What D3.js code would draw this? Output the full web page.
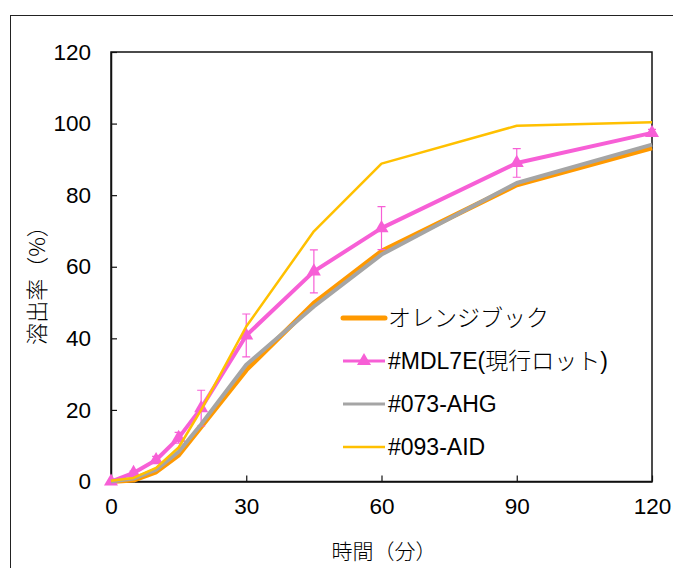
<!DOCTYPE html>
<html>
<head>
<meta charset="utf-8">
<script src="https://cdn.jsdelivr.net/npm/d3@7"></script>
<style>
  body { margin: 0; background: #fff; }
  text { font-family: "Liberation Sans", Arial, "Noto Sans CJK JP", sans-serif; fill: #000; }
  .jp { font-family: "Noto Sans CJK JP", sans-serif; font-weight: 300; }
</style>
</head>
<body>
<div id="chart"></div>
<script>
'use strict';

// time points (min)
const times = [0, 5, 10, 15, 20, 30, 45, 60, 90, 120];

// dissolution (%) per lot
const orangeBook = [0, 0.4, 2.7, 7.4, 15.3, 31.2, 49.8, 64.3, 82.9, 93.2];
const mdl7e = [0, 2.4, 6, 12.2, 20.5, 40.8, 58.7, 70.8, 89, 97.4];
const mdl7eErr = [0, 0.5, 1, 1.5, 5, 6, 6, 6, 4, 1];
const ahg073 = [0, 0.8, 3.3, 8.3, 16, 32.6, 48.9, 63.4, 83.4, 94.1];
const aid093 = [0.2, 1, 3.8, 9.5, 20, 43.3, 69.9, 88.8, 99.4, 100.4];

const seriesNames = ["オレンジブック", "#MDL7E(現行ロット)", "#073-AHG", "#093-AID"];
const xTicks = [0, 30, 60, 90, 120];
const yTicks = [0, 20, 40, 60, 80, 100, 120];

(function() {

  let svgContainer = "";

  window.onload = function() {
    svgContainer = d3.select('#chart')
      .append('svg')
      .attr('width', 673)
      .attr('height', 568);

    // outer chart frame (runs past the window on right and bottom)
    svgContainer.append('rect')
      .attr('x', 10.5)
      .attr('y', 15.5)
      .attr('width', 700)
      .attr('height', 600)
      .attr('fill', 'none')
      .attr('stroke', '#222')
      .attr('stroke-width', 1);

    let map = drawAxes();
    plotData(map);
    makeLegend();
    makeLabels();
  }

  // draw the axes, ticks and plot border
  function drawAxes() {
    let xScale = d3.scaleLinear()
      .domain([0, 120])
      .range([111, 652]);

    let yScale = d3.scaleLinear()
      .domain([0, 120])
      .range([481.5, 52]);

    // plot border
    svgContainer.append('rect')
      .attr('x', 111)
      .attr('y', 52)
      .attr('width', 541)
      .attr('height', 429.5)
      .attr('fill', 'none')
      .attr('stroke', '#111')
      .attr('stroke-width', 1.5);

    let xAxis = d3.axisBottom(xScale)
      .tickValues(xTicks)
      .tickSizeInner(-6)
      .tickSizeOuter(0)
      .tickPadding(28);
    let gx = svgContainer.append('g')
      .attr('transform', 'translate(0, 481.5)')
      .call(xAxis);

    let yAxis = d3.axisLeft(yScale)
      .tickValues(yTicks)
      .tickSizeInner(-6)
      .tickSizeOuter(0)
      .tickPadding(26);
    let gy = svgContainer.append('g')
      .attr('transform', 'translate(111, 0)')
      .call(yAxis);

    [gx, gy].forEach((g) => {
      g.select('.domain').attr('stroke', '#111').attr('stroke-width', 1.5);
      g.selectAll('.tick line').attr('stroke', '#111').attr('stroke-width', 1.2);
      g.selectAll('.tick text')
        .style('font-size', '22.5px')
        .style('font-family', '"Liberation Sans", Arial, sans-serif')
        .attr('fill', '#000');
    });
    gx.selectAll('.tick text').attr('dy', '0.2em');
    gy.selectAll('.tick text').attr('x', -20);

    return { x: xScale, y: yScale };
  }

  // draw lines, error bars and markers
  function plotData(map) {
    let rows = times.map((t, i) => ({
      t: t, o: orangeBook[i], m: mdl7e[i], e: mdl7eErr[i], g: ahg073[i], y: aid093[i]
    }));

    let line = (key) => d3.line()
      .x((d) => map.x(d.t))
      .y((d) => map.y(d[key]));

    svgContainer.append('path')
      .datum(rows)
      .attr('fill', 'none')
      .attr('stroke', '#FF9900')
      .attr('stroke-width', 5)
      .attr('stroke-linejoin', 'round')
      .attr('d', line('o'));

    // error bars for #MDL7E
    let err = svgContainer.append('g')
      .attr('stroke', '#F75FD6')
      .attr('stroke-width', 1.2);
    err.selectAll('.ebar')
      .data(rows.filter((d) => d.e > 0))
      .enter()
      .append('path')
        .attr('fill', 'none')
        .attr('d', (d) => {
          let x = map.x(d.t), y1 = map.y(d.m + d.e), y2 = map.y(d.m - d.e);
          return 'M' + (x - 4) + ',' + y1 + 'H' + (x + 4) + 'M' + x + ',' + y1 + 'V' + y2 +
            'M' + (x - 4) + ',' + y2 + 'H' + (x + 4);
        });

    svgContainer.append('path')
      .datum(rows)
      .attr('fill', 'none')
      .attr('stroke', '#F75FD6')
      .attr('stroke-width', 4)
      .attr('stroke-linejoin', 'round')
      .attr('d', line('m'));

    svgContainer.selectAll('.tri')
      .data(rows)
      .enter()
      .append('path')
        .attr('transform', (d) => 'translate(' + map.x(d.t) + ',' + map.y(d.m) + ')')
        .attr('d', d3.symbol().type(d3.symbolTriangle).size(85))
        .attr('fill', '#F75FD6');

    svgContainer.append('path')
      .datum(rows)
      .attr('fill', 'none')
      .attr('stroke', '#A5A5A5')
      .attr('stroke-width', 4)
      .attr('stroke-linejoin', 'round')
      .attr('d', line('g'));

    svgContainer.append('path')
      .datum(rows)
      .attr('fill', 'none')
      .attr('stroke', '#FFC000')
      .attr('stroke-width', 2.5)
      .attr('stroke-linejoin', 'round')
      .attr('d', line('y'));
  }

  // legend inside the plot
  function makeLegend() {
    let styles = [
      { color: '#FF9900', width: 5, marker: false },
      { color: '#F75FD6', width: 3, marker: true },
      { color: '#A5A5A5', width: 3, marker: false },
      { color: '#FFC000', width: 2.5, marker: false }
    ];
    let item = svgContainer.selectAll('.legend')
      .data(seriesNames)
      .enter()
      .append('g')
        .attr('transform', (d, i) => 'translate(343,' + (318 + i * 43) + ')');

    item.append('line')
      .attr('x1', 0)
      .attr('x2', 42)
      .attr('stroke', (d, i) => styles[i].color)
      .attr('stroke-width', (d, i) => styles[i].width)
      .attr('stroke-linecap', (d, i) => i == 0 ? 'round' : 'butt');

    item.filter((d, i) => styles[i].marker)
      .append('path')
        .attr('transform', 'translate(21,0)')
        .attr('d', d3.symbol().type(d3.symbolTriangle).size(85))
        .attr('fill', '#F75FD6');

    // light weight so the kana look thin like the original
    item.append('text')
      .attr('x', 45)
      .attr('dy', '0.36em')
      .style('font-size', '23px')
      .style('font-weight', 300)
      .text((d) => d);
  }

  // axis titles
  function makeLabels() {
    svgContainer.append('text')
      .attr('class', 'jp')
      .attr('x', 384)
      .attr('y', 559)
      .attr('text-anchor', 'middle')
      .style('font-size', '21px')
      .text('時間（分）');

    svgContainer.append('text')
      .attr('class', 'jp')
      .attr('transform', 'translate(45, 280)rotate(-90)')
      .attr('text-anchor', 'middle')
      .style('font-size', '22px')
      .text('溶出率（%）');
  }

})();
</script>
</body>
</html>
